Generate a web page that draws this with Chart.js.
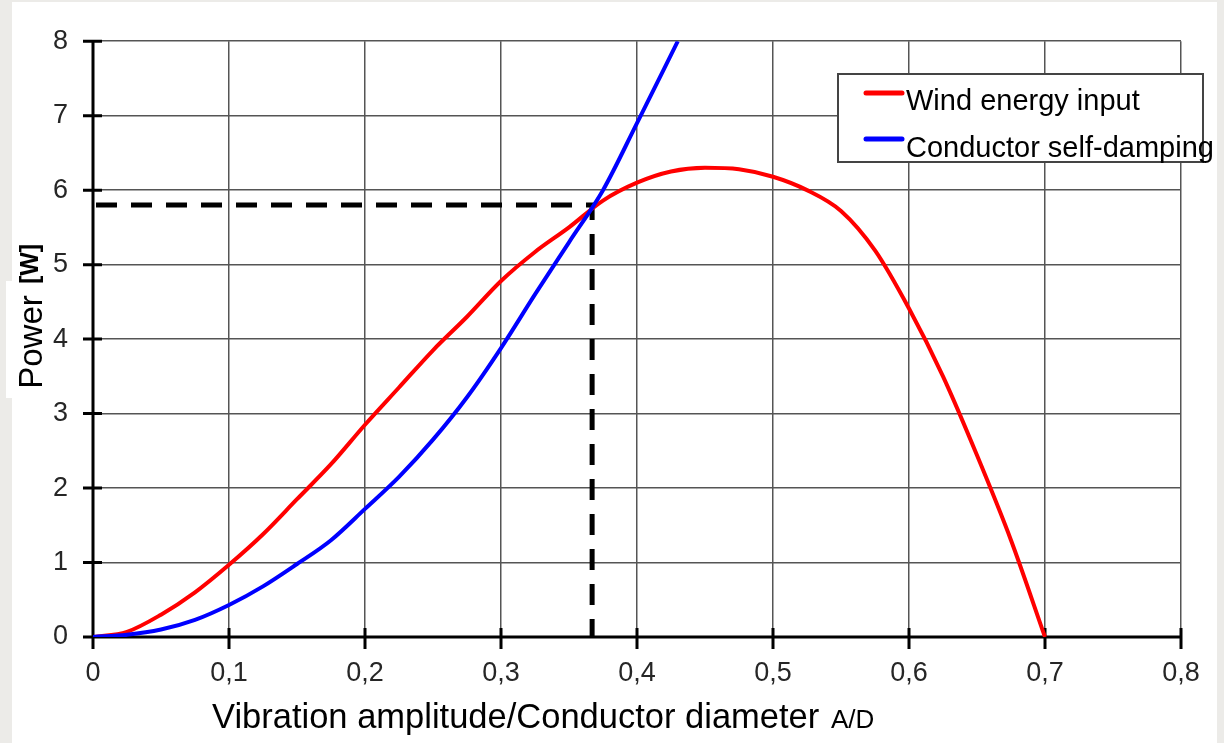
<!DOCTYPE html>
<html>
<head>
<meta charset="utf-8">
<title>Wind energy input vs conductor self-damping</title>
<script src="https://cdn.jsdelivr.net/npm/chart.js@4.4.1/dist/chart.umd.min.js"></script>
<style>
  html, body { margin: 0; padding: 0; background: #ecebe8; }
  #wrap { width: 1224px; height: 743px; position: relative; }
</style>
</head>
<body>
<div id="wrap"><canvas id="powerChart"></canvas></div>
<script>
/* ---------- Data ---------- */
const windX = [0, 0.025, 0.05, 0.075, 0.1, 0.125, 0.15, 0.175, 0.2, 0.225, 0.25, 0.275, 0.3, 0.325, 0.35, 0.375, 0.4, 0.425, 0.45, 0.475, 0.5, 0.525, 0.55, 0.575, 0.6, 0.625, 0.65, 0.675, 0.7];
const windY = [0, 0.07, 0.3, 0.6, 0.97, 1.38, 1.85, 2.32, 2.85, 3.35, 3.85, 4.3, 4.78, 5.17, 5.5, 5.86, 6.1, 6.25, 6.3, 6.28, 6.18, 6.0, 5.72, 5.19, 4.41, 3.5, 2.44, 1.3, 0];

const dampX = [0, 0.025, 0.05, 0.075, 0.1, 0.125, 0.15, 0.175, 0.2, 0.225, 0.25, 0.275, 0.3, 0.325, 0.35, 0.375, 0.4, 0.43];
const dampY = [0, 0.03, 0.1, 0.23, 0.43, 0.68, 0.98, 1.3, 1.72, 2.15, 2.65, 3.22, 3.88, 4.6, 5.3, 6.0, 6.9, 8.0];

// operating point where the two curves cross
const crossX = 0.367;
const crossY = 5.8;

const seriesLabels = ['Wind energy input', 'Conductor self-damping'];
const xTitle = 'Vibration amplitude/Conductor diameter';
const xUnit = 'A/D';
const yTitle = 'Power';
const yUnit = '[W]';

const FONT = "'Liberation Sans', Arial, sans-serif";

const toPoints = (xs, ys) => xs.map((x, i) => ({ x: x, y: ys[i] }));

/* ---------- Page frame + axis titles ---------- */
const framePlugin = {
  id: 'frame',
  beforeDraw(chart) {
    const ctx = chart.ctx;
    ctx.save();
    ctx.fillStyle = '#ecebe8';
    ctx.fillRect(0, 0, chart.width, chart.height);
    ctx.fillStyle = '#ffffff';
    ctx.fillRect(12, 2, 1205, chart.height - 2);
    // white patch behind the y title
    ctx.fillRect(6, 281, 42, 117);
    ctx.restore();
  },
  afterDraw(chart) {
    const ctx = chart.ctx;
    ctx.save();
    ctx.fillStyle = '#000';
    ctx.textBaseline = 'alphabetic';
    ctx.textAlign = 'left';
    ctx.font = '34.5px ' + FONT;
    ctx.fillText(xTitle, 212, 728);
    ctx.font = '26px ' + FONT;
    ctx.fillText(xUnit, 831, 728);

    ctx.translate(42, 342);
    ctx.rotate(-Math.PI / 2);
    ctx.textAlign = 'center';
    ctx.font = '33px ' + FONT;
    ctx.fillText(yTitle, 0, 0);
    ctx.font = 'bold 25px ' + FONT;
    ctx.fillText(yUnit, 78, -4);
    ctx.restore();
  }
};

/* ---------- Black axes with crossing ticks ---------- */
const axesPlugin = {
  id: 'axes',
  beforeDatasetsDraw(chart) {
    const { ctx, chartArea: a, scales: { x, y } } = chart;
    ctx.save();
    ctx.strokeStyle = '#000';
    ctx.lineWidth = 3;
    ctx.beginPath();
    ctx.moveTo(a.left, a.top);
    ctx.lineTo(a.left, a.bottom);
    ctx.lineTo(a.right, a.bottom);
    x.ticks.forEach(t => {
      const px = x.getPixelForValue(t.value);
      ctx.moveTo(px, a.bottom - 9);
      ctx.lineTo(px, a.bottom + 12);
    });
    y.ticks.forEach(t => {
      const py = y.getPixelForValue(t.value);
      ctx.moveTo(a.left - 10, py);
      ctx.lineTo(a.left + 9, py);
    });
    ctx.stroke();
    ctx.restore();
  }
};

/* ---------- Legend box inside the plot ---------- */
const boxLegendPlugin = {
  id: 'boxLegend',
  afterDatasetsDraw(chart) {
    const ctx = chart.ctx;
    ctx.save();
    ctx.fillStyle = '#fff';
    ctx.fillRect(838, 74, 365, 88);
    ctx.strokeStyle = '#444';
    ctx.lineWidth = 2;
    ctx.strokeRect(838, 74, 365, 88);
    ctx.font = '29px ' + FONT;
    ctx.textBaseline = 'alphabetic';
    ctx.lineCap = 'round';
    [0, 1].forEach(i => {
      const ds = chart.data.datasets[i];
      const ly = 93 + i * 46;
      ctx.strokeStyle = ds.borderColor;
      ctx.lineWidth = 5;
      ctx.beginPath();
      ctx.moveTo(866, ly);
      ctx.lineTo(902, ly);
      ctx.stroke();
      ctx.fillStyle = '#000';
      ctx.fillText(ds.label, 906, 110 + i * 47);
    });
    ctx.restore();
  }
};

const fmtX = v => (v === 0 ? '0' : v.toFixed(1).replace('.', ','));

new Chart(document.getElementById('powerChart'), {
  type: 'scatter',
  data: {
    datasets: [
      {
        label: seriesLabels[0],
        data: toPoints(windX, windY),
        borderColor: '#ff0000',
        borderWidth: 4,
        showLine: true,
        pointRadius: 0,
        cubicInterpolationMode: 'monotone',
        order: 1
      },
      {
        label: seriesLabels[1],
        data: toPoints(dampX, dampY),
        borderColor: '#0000ff',
        borderWidth: 4,
        showLine: true,
        pointRadius: 0,
        cubicInterpolationMode: 'monotone',
        order: 0
      },
      {
        label: 'operating point',
        data: [{ x: 0, y: crossY }, { x: crossX, y: crossY }, { x: crossX, y: 0 }],
        borderColor: '#000',
        borderWidth: 5,
        borderDash: [21, 14],
        borderDashOffset: -3,
        showLine: true,
        pointRadius: 0,
        tension: 0,
        order: 2
      }
    ]
  },
  options: {
    responsive: true,
    maintainAspectRatio: false,
    animation: false,
    layout: { padding: { top: 40, right: 43, left: 0, bottom: 0 } },
    plugins: {
      legend: { display: false },
      tooltip: { enabled: false }
    },
    scales: {
      x: {
        type: 'linear',
        min: 0,
        max: 0.8,
        afterFit: s => { s.height = 106; },
        ticks: {
          stepSize: 0.1,
          padding: 20,
          color: '#262626',
          font: { family: FONT, size: 27 },
          callback: v => fmtX(v)
        },
        grid: { color: '#555', lineWidth: 1.5, drawTicks: false },
        border: { display: false }
      },
      y: {
        min: 0,
        max: 8,
        afterFit: s => { s.width = 93; },
        ticks: {
          stepSize: 1,
          padding: 25,
          color: '#262626',
          font: { family: FONT, size: 27 }
        },
        grid: { color: '#555', lineWidth: 1.5, drawTicks: false },
        border: { display: false }
      }
    }
  },
  plugins: [framePlugin, axesPlugin, boxLegendPlugin]
});
</script>
</body>
</html>
